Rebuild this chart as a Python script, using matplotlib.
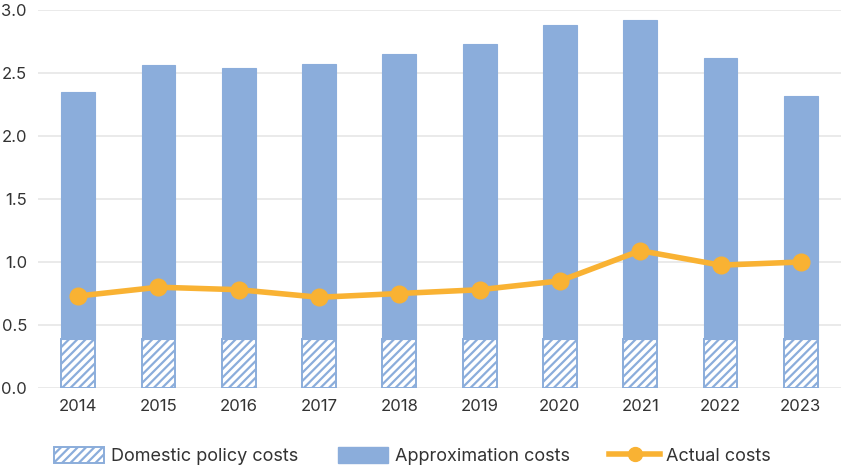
import matplotlib
matplotlib.use("Agg")
import matplotlib.pyplot as plt
import numpy as np
from matplotlib.lines import Line2D
from matplotlib.patches import Patch

years = ["2014", "2015", "2016", "2017", "2018", "2019", "2020", "2021", "2022", "2023"]
domestic = [0.39, 0.39, 0.39, 0.39, 0.39, 0.39, 0.39, 0.39, 0.39, 0.39]
approximation = [1.96, 2.17, 2.15, 2.18, 2.26, 2.34, 2.49, 2.53, 2.23, 1.93]
actual = [0.73, 0.80, 0.78, 0.72, 0.75, 0.78, 0.85, 1.09, 0.975, 1.00]

plt.rcParams['font.family'] = ['Inter', 'DejaVu Sans']
plt.rcParams['hatch.linewidth'] = 1.6

blue = '#8BADDB'
orange = '#F9B233'
text_col = '#333333'

fig = plt.figure(figsize=(8.45, 4.66), dpi=100)
ax = fig.add_axes([38/845, (466-388)/466, (841-38)/845, (388-10)/466])

x = np.arange(len(years))
w = 0.42
ax.bar(x, domestic, width=w, facecolor='white', edgecolor=blue, hatch='////', linewidth=1.4, zorder=2)
ax.bar(x, approximation, width=w, bottom=domestic, color=blue, edgecolor=blue, linewidth=0.8, zorder=2)
ax.plot(x, actual, color=orange, linewidth=4, marker='o', markersize=12, zorder=3)

ax.set_xlim(-0.5, len(years) - 0.5)
ax.set_ylim(0, 3.0)
ax.set_yticks(np.arange(0, 3.01, 0.5))
ax.set_yticklabels([f"{v:.1f}" for v in np.arange(0, 3.01, 0.5)])
ax.set_xticks(x)
ax.set_xticklabels(years)
ax.tick_params(axis='both', length=0, labelsize=12, colors=text_col)
ax.tick_params(axis='x', pad=8)
ax.tick_params(axis='y', pad=8)
ax.grid(axis='y', color='#E6E6E6', linewidth=1.2, zorder=0)
ax.set_axisbelow(True)
for s in ax.spines.values():
    s.set_visible(False)

handles = [
    Patch(facecolor='white', edgecolor=blue, hatch='////', linewidth=1.4),
    Patch(facecolor=blue, edgecolor=blue),
    Line2D([0], [0], color=orange, linewidth=4, marker='o', markersize=10),
]
labels = ["Domestic policy costs", "Approximation costs", "Actual costs"]
fig.legend(handles, labels, loc='center', bbox_to_anchor=(0.488, 10/466), ncol=3,
           frameon=False, fontsize=13, handlelength=2.8, handleheight=1.0, columnspacing=2.2,
           handletextpad=0.35, labelcolor=text_col)

fig.savefig("out.png", dpi=100)
